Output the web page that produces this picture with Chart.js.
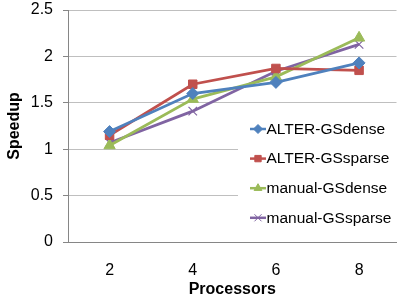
<!DOCTYPE html>
<html>
<head>
<meta charset="utf-8">
<script src="https://cdn.jsdelivr.net/npm/chart.js@4"></script>
<style>
  html, body { margin: 0; padding: 0; background: #fff; }
  #wrap { width: 404px; height: 302px; }
</style>
</head>
<body>
<div id="wrap"><canvas id="speedupChart"></canvas></div>
<script>
const processors = [2, 4, 6, 8];
const alterDense = [1.19, 1.60, 1.72, 1.93];
const alterSparse = [1.15, 1.70, 1.87, 1.85];
const manualDense = [1.04, 1.54, 1.78, 2.20];
const manualSparse = [1.07, 1.41, 1.84, 2.13];
const seriesNames = ['ALTER-GSdense', 'ALTER-GSsparse', 'manual-GSdense', 'manual-GSsparse'];
const yTicks = [0, 0.5, 1, 1.5, 2, 2.5];

const FONT = "'Liberation Sans', Arial, sans-serif";

function toPoints(values) {
    return processors.map((p, i) => ({ x: p, y: values[i] }));
}

function makeSeries(label, values, color, style, radius) {
    return {
        label: label,
        data: toPoints(values),
        borderColor: color,
        backgroundColor: color,
        borderWidth: 2.8,
        pointStyle: style,
        pointRadius: radius,
        pointBorderWidth: style === 'crossRot' ? 1.2 : 1,
        pointBorderColor: color,
        pointBackgroundColor: color,
        tension: 0
    };
}

// legend drawn as a white box sitting on top of the plot, like the original
const boxLegend = {
    id: 'boxLegend',
    afterDatasetsDraw(chart) {
        const ctx = chart.ctx;
        ctx.save();
        ctx.fillStyle = '#ffffff';
        ctx.fillRect(238, 106, 166, 134);
        chart.data.datasets.forEach((ds, i) => {
            const y = 129 + i * 29.6;
            ctx.strokeStyle = ds.borderColor;
            ctx.fillStyle = ds.borderColor;
            ctx.lineWidth = 2.5;
            ctx.beginPath();
            ctx.moveTo(250, y);
            ctx.lineTo(266, y);
            ctx.stroke();
            ctx.lineWidth = 1;
            Chart.helpers.drawPoint(ctx, {
                pointStyle: ds.pointStyle,
                radius: ds.pointStyle === 'crossRot' ? 5 : 4.5,
                borderWidth: 1,
                rotation: 0
            }, 258, y);
            ctx.fillStyle = '#000';
            ctx.font = '15.5px ' + FONT;
            ctx.textBaseline = 'middle';
            ctx.textAlign = 'left';
            ctx.fillText(ds.label, 266.5, y + 0.5);
        });
        ctx.restore();
    }
};

const ctx = document.getElementById('speedupChart');
new Chart(ctx, {
    type: 'line',
    data: {
        datasets: [
            makeSeries(seriesNames[0], alterDense, '#4F81BD', 'rectRot', 6),
            makeSeries(seriesNames[1], alterSparse, '#C0504D', 'rect', 6),
            makeSeries(seriesNames[2], manualDense, '#9BBB59', 'triangle', 6.5),
            makeSeries(seriesNames[3], manualSparse, '#8064A2', 'crossRot', 6)
        ]
    },
    options: {
        responsive: true,
        maintainAspectRatio: false,
        animation: false,
        layout: {
            padding: { top: 10, right: 0, bottom: 0, left: 0 }
        },
        plugins: {
            legend: { display: false },
            tooltip: { enabled: false }
        },
        scales: {
            x: {
                type: 'linear',
                min: 1,
                max: 8.9,
                afterBuildTicks: (axis) => {
                    axis.ticks = processors.map(v => ({ value: v }));
                },
                afterFit: (scale) => {
                    scale.height = 60;
                    scale.paddingLeft = 0;
                    scale.paddingRight = 0;
                },
                grid: { display: false },
                border: { display: true, color: '#868686', width: 1 },
                ticks: {
                    color: '#000',
                    padding: 11,
                    font: { family: FONT, size: 16 },
                    maxRotation: 0
                },
                title: {
                    display: true,
                    text: 'Processors',
                    color: '#000',
                    font: { family: FONT, size: 16, weight: 'bold' },
                    padding: { top: 0, bottom: 3 }
                }
            },
            y: {
                min: 0,
                max: 2.5,
                afterBuildTicks: (axis) => {
                    axis.ticks = yTicks.map(v => ({ value: v }));
                },
                afterFit: (scale) => {
                    scale.width = 68;
                    scale.paddingTop = 0;
                    scale.paddingBottom = 0;
                },
                grid: {
                    color: '#bfbfbf',
                    lineWidth: 1,
                    tickLength: 5,
                    tickColor: '#868686'
                },
                border: { display: true, color: '#868686', width: 1 },
                ticks: {
                    color: '#000',
                    padding: 10,
                    font: { family: FONT, size: 16 },
                    callback: (v) => String(v)
                },
                title: {
                    display: true,
                    text: 'Speedup',
                    color: '#000',
                    font: { family: FONT, size: 16, weight: 'bold' },
                    padding: { top: 5, bottom: 0 }
                }
            }
        }
    },
    plugins: [boxLegend]
});
</script>
</body>
</html>
